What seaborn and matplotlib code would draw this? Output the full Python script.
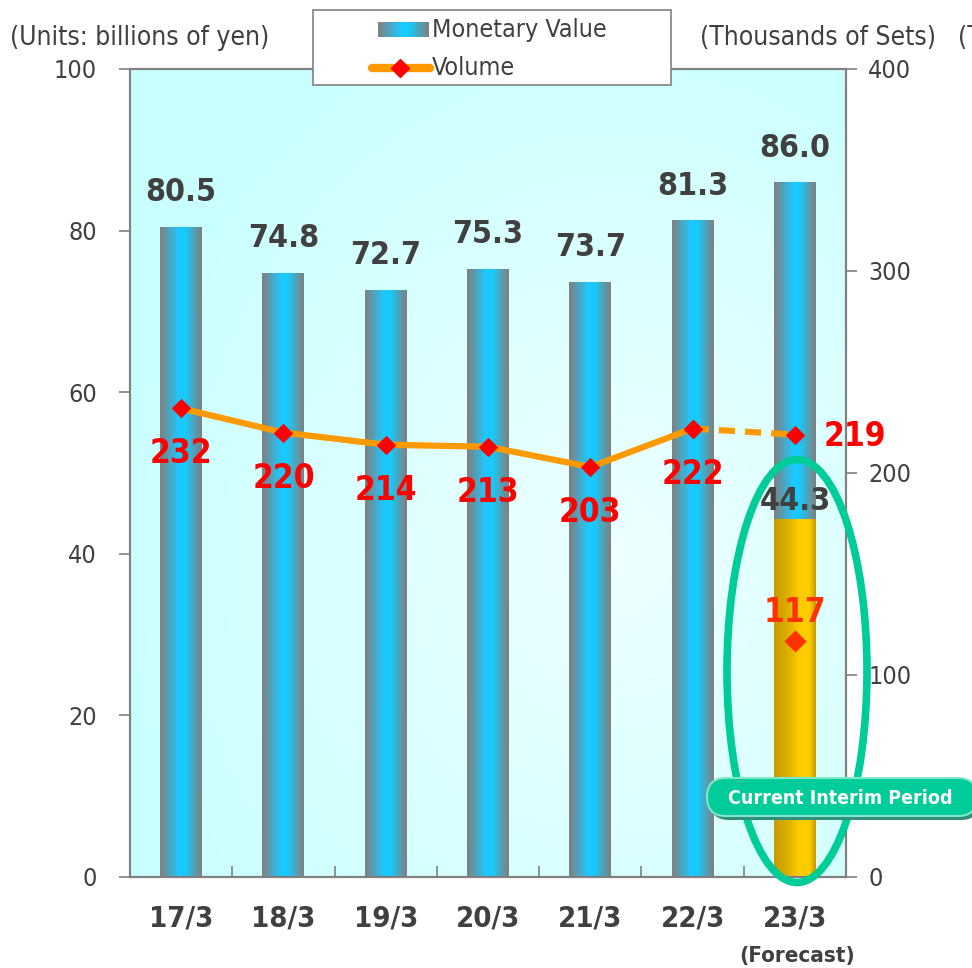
import numpy as np
import pandas as pd
import matplotlib
matplotlib.use("Agg")
import matplotlib.pyplot as plt
import seaborn as sns
from matplotlib import font_manager
from matplotlib.patches import Ellipse, FancyBboxPatch, Rectangle
from matplotlib.ticker import FixedLocator

# ---- data ----
periods = ["17/3", "18/3", "19/3", "20/3", "21/3", "22/3", "23/3"]
monetary = [80.5, 74.8, 72.7, 75.3, 73.7, 81.3, 86.0]      # billions of yen
volume = [232, 220, 214, 213, 203, 222, 219]               # thousands of sets
interim_value = 44.3
interim_volume = 117

sns.set_style("ticks")
condensed = [f for f in font_manager.fontManager.ttflist
             if "Condensed" in f.fname or "Narrow" in f.fname]
if condensed:
    cf = sorted(condensed, key=lambda f: (f.weight != 400, f.style != "normal"))[0]
    base_font = cf.name
    plt.rcParams["font.stretch"] = cf.stretch
else:
    base_font = "DejaVu Sans"
plt.rcParams["font.family"] = [base_font, "DejaVu Sans"]

TXT = "#404040"
SPINE = "#808080"

W, H = 972, 968
fig = plt.figure(figsize=(W / 100, H / 100), dpi=100)
ax = fig.add_axes([130 / W, 1 - 877 / H, 716 / W, 808 / H])


def hgrad(stops, n=64):
    t = np.linspace(0, 1, n)
    pos = [s[0] for s in stops]
    cols = np.array([s[1] for s in stops], dtype=float) / 255
    img = np.stack([np.interp(t, pos, cols[:, k]) for k in range(3)], axis=-1)
    return img[None, :, :]


blue_grad = hgrad([(0, (128, 128, 128)), (0.45, (30, 200, 255)),
                   (0.6, (20, 204, 255)), (1, (128, 128, 128))])
gold_grad = hgrad([(0, (200, 154, 0)), (0.35, (222, 176, 0)), (0.6, (255, 204, 0)),
                   (0.85, (255, 204, 0)), (1, (200, 154, 0))])

# background: soft light-cyan radial wash
gy, gx = np.mgrid[0:200, 0:200]
r = np.sqrt(((gx - 135) / 200) ** 2 + ((gy - 120) / 200) ** 2)
r = np.clip(r / 0.7, 0, 1)
bg = np.zeros((200, 200, 3))
bg[..., 0] = (238 - 36 * r) / 255
bg[..., 1] = 1.0
bg[..., 2] = 1.0
ax.imshow(bg, extent=[-0.5, 6.5, 0, 100], aspect="auto", zorder=0, origin="upper")

# monetary value bars
df = pd.DataFrame({"period": periods, "value": monetary})
sns.barplot(data=df, x="period", y="value", ax=ax, width=0.41,
            color="#20c8ff", saturation=1, zorder=2)
bar_patches = list(ax.patches)
gold = ax.bar(6, interim_value, width=0.41, color="#ffcc00", zorder=3)
for patch, grad, z in [(p, blue_grad, 2) for p in bar_patches] + \
        [(gold.patches[0], gold_grad, 3)]:
    x0, w, h = patch.get_x(), patch.get_width(), patch.get_height()
    im = ax.imshow(grad, extent=[x0, x0 + w, 0, h], aspect="auto", zorder=z)
    im.set_clip_path(patch)
    patch.set_facecolor("none")
    patch.set_edgecolor("none")

for i, v in enumerate(monetary):
    ax.text(i, v + 2.3, f"{v:.1f}", ha="center", va="bottom", fontsize=23,
            fontweight="bold", color=TXT, zorder=5)
ax.text(6, interim_value + 0.3, f"{interim_value:.1f}", ha="center", va="bottom",
        fontsize=23, fontweight="bold", color=TXT, zorder=5)

ax.set_xlim(-0.5, 6.5)
ax.set_ylim(0, 100)
ax.set_yticks([0, 20, 40, 60, 80, 100])
ax.set_xlabel("")
ax.set_ylabel("")
ax.tick_params(axis="y", direction="out", length=8, width=1.2, color=SPINE,
               labelsize=18, labelcolor=TXT, pad=16)
ax.tick_params(axis="x", which="major", length=0, labelsize=21, labelcolor=TXT, pad=20)
for lab in ax.get_xticklabels():
    lab.set_fontweight("bold")
ax.xaxis.set_minor_locator(FixedLocator(np.arange(0.5, 6.5, 1)))
ax.tick_params(axis="x", which="minor", direction="in", length=8, width=1.2, color=SPINE)
for s in ax.spines.values():
    s.set_color(SPINE)
    s.set_linewidth(1.5)

# volume line on the secondary axis
ax2 = ax.twinx()
idx = list(range(len(periods)))
sns.lineplot(x=idx[:6], y=volume[:6], ax=ax2, color="#ff9900", linewidth=4.5,
             marker="D", markersize=9, markerfacecolor="red", markeredgecolor="red", zorder=6)
sns.lineplot(x=idx[5:], y=volume[5:], ax=ax2, color="#ff9900", linewidth=4.5,
             linestyle=(0, (2.6, 1.6)), marker="D", markersize=9,
             markerfacecolor="red", markeredgecolor="red", zorder=6)
sns.scatterplot(x=[6], y=[interim_volume], ax=ax2, marker="D", s=110,
                color="#ff3300", edgecolor="#ff3300", zorder=7)

for i, v in enumerate(volume[:6]):
    ax2.text(i, v - 22.5, str(v), ha="center", va="center", fontsize=24,
             fontweight="bold", color="red", zorder=8)
ax2.text(6.28, volume[6] - 1, str(volume[6]), ha="left", va="center", fontsize=24,
         fontweight="bold", color="red", zorder=8)
ax2.text(6, interim_volume + 6, str(interim_volume), ha="center", va="bottom",
         fontsize=24, fontweight="bold", color="#ff3300", zorder=8)

ax2.set_ylim(0, 400)
ax2.set_yticks([0, 100, 200, 300, 400])
ax2.set_ylabel("")
ax2.tick_params(axis="y", direction="out", length=8, width=1.2, color=SPINE,
                labelsize=18, labelcolor=TXT, pad=8)
for s in ax2.spines.values():
    s.set_color(SPINE)
    s.set_linewidth(1.5)

# overlay in pixel coordinates for legend, captions and highlight
ov = fig.add_axes([0, 0, 1, 1], zorder=10)
ov.set_xlim(0, W)
ov.set_ylim(H, 0)
ov.axis("off")
ov.patch.set_alpha(0)

ov.text(10, 38, "(Units: billions of yen)", ha="left", va="center", fontsize=19, color=TXT)
ov.text(700, 38, "(Thousands of Sets)", ha="left", va="center", fontsize=19, color=TXT)
ov.text(958, 38, "(T", ha="left", va="center", fontsize=19, color=TXT)
ov.text(797, 956, "(Forecast)", ha="center", va="center", fontsize=16,
        fontweight="bold", color=TXT)

# legend box
ov.add_patch(Rectangle((313, 10), 358, 75, facecolor="white", edgecolor=SPINE, lw=1.2))
ov.imshow(blue_grad, extent=[378, 428, 37, 22], aspect="auto", zorder=11)
ov.plot([372, 430], [68, 68], color="#ff9900", lw=6, solid_capstyle="round", zorder=11)
ov.plot([400], [68], marker="D", markersize=9, color="red", zorder=12)
ov.text(432, 30, "Monetary Value", ha="left", va="center", fontsize=18, color=TXT)
ov.text(432, 68, "Volume", ha="left", va="center", fontsize=18, color=TXT)

# highlight of the current interim period
ov.add_patch(Ellipse((797, 671), 140, 423, fill=False, edgecolor="#00cc99", lw=5.5, zorder=12))
ov.add_patch(FancyBboxPatch((710, 782), 270, 38, boxstyle="round,pad=0,rounding_size=19",
                            facecolor="#2f8f78", edgecolor="none", zorder=12))
ov.add_patch(FancyBboxPatch((707, 778), 270, 38, boxstyle="round,pad=0,rounding_size=19",
                            facecolor="#00cc99", edgecolor="#7fe6cc", lw=1.5, zorder=13))
ov.text(840, 798, "Current Interim Period", ha="center", va="center", fontsize=14,
        fontweight="bold", color="white", zorder=14)
ov.set_xlim(0, W)
ov.set_ylim(H, 0)

fig.savefig("out.png", dpi=100)
